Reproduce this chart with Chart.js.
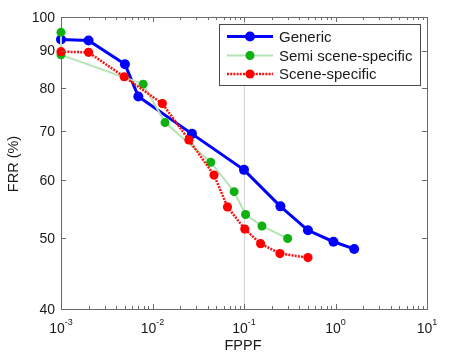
<!DOCTYPE html>
<html><head><meta charset="utf-8">
<script src="https://cdn.jsdelivr.net/npm/chart.js@4"></script>
<style>html,body{margin:0;padding:0;background:#fff}#wrap{width:466px;height:356px}</style>
</head><body><div id="wrap"><canvas id="c" width="466" height="356"></canvas></div>
<script>
// ---- data ----
const seriesNames = ['Generic', 'Semi scene-specific', 'Scene-specific'];
const genericX = [0.001, 0.002, 0.005, 0.007, 0.027, 0.1, 0.25, 0.5, 0.95, 1.6];
const genericY = [93.2, 92.9, 86.2, 77.9, 69.3, 61.9, 55.2, 51.2, 49.4, 48.3];
const semiX = [0.001, 0.001, 0.0079, 0.0137, 0.0433, 0.078, 0.104, 0.157, 0.30];
const semiY = [95.3, 88.8, 81.0, 71.8, 63.4, 57.8, 53.8, 51.9, 49.9];
const sceneX = [0.001, 0.002, 0.0049, 0.0128, 0.025, 0.047, 0.066, 0.102, 0.152, 0.247, 0.50];
const sceneY = [89.7, 89.5, 82.9, 76.2, 68.0, 60.9, 55.1, 51.4, 49.1, 47.6, 47.0];
const xTickExps = [-3, -2, -1, 0, 1];
const yTicks = [40, 50, 60, 70, 80, 90, 100];
const xTitle = 'FPPF';
const yTitle = 'FRR (%)';

const pts = (xs, ys) => xs.map((x, i) => ({x: x, y: ys[i]}));

const styles = [
  {line: '#0000ff', mark: '#0000ff', width: 3, dash: [], r: 5},
  {line: '#b4e4b4', mark: '#10b010', width: 2, dash: [], r: 4.5},
  {line: '#ff1010', mark: '#ff0000', width: 2.5, dash: [2, 1.2], r: 4.6}
];

const FONT = '"Liberation Sans", Arial, sans-serif';
const AXIS = '#6a6a6a';

const decor = {
  id: 'decor',
  beforeDatasetsDraw(chart) {
    const ctx = chart.ctx, a = chart.chartArea, xs = chart.scales.x;
    ctx.save();
    ctx.fillStyle = '#ffffff';
    ctx.fillRect(a.left, a.top, a.right - a.left, a.bottom - a.top);
    const gx = Math.round(xs.getPixelForValue(0.1)) + 0.5;
    ctx.strokeStyle = '#d4d4d4';
    ctx.lineWidth = 1;
    ctx.beginPath(); ctx.moveTo(gx, a.top); ctx.lineTo(gx, a.bottom); ctx.stroke();
    ctx.strokeStyle = AXIS;
    ctx.strokeRect(Math.round(a.left) + 0.5, Math.round(a.top) + 0.5,
                   Math.round(a.right - a.left), Math.round(a.bottom - a.top));
    ctx.restore();
  },
  afterDatasetsDraw(chart) {
    const ctx = chart.ctx, a = chart.chartArea, xs = chart.scales.x, ys = chart.scales.y;
    ctx.save();
    ctx.strokeStyle = AXIS;
    ctx.lineWidth = 1;
    ctx.beginPath();
    for (let k = 0; k < xTickExps.length; k++) {
      const e = xTickExps[k];
      const maxM = (k === xTickExps.length - 1) ? 1 : 9;
      for (let m = 1; m <= maxM; m++) {
        const v = m * Math.pow(10, e);
        const px = Math.round(xs.getPixelForValue(v)) + 0.5;
        const len = m === 1 ? 5 : 3;
        ctx.moveTo(px, a.bottom); ctx.lineTo(px, a.bottom - len);
        ctx.moveTo(px, a.top); ctx.lineTo(px, a.top + len);
      }
    }
    for (const v of yTicks) {
      const py = Math.round(ys.getPixelForValue(v)) + 0.5;
      ctx.moveTo(a.left, py); ctx.lineTo(a.left + 5, py);
      ctx.moveTo(a.right, py); ctx.lineTo(a.right - 5, py);
    }
    ctx.stroke();

    ctx.fillStyle = '#1a1a1a';
    ctx.font = '14px ' + FONT;
    ctx.textAlign = 'right';
    ctx.textBaseline = 'middle';
    for (const v of yTicks) {
      ctx.fillText(String(v), a.left - 6, ys.getPixelForValue(v) + 1);
    }
    ctx.textAlign = 'left';
    ctx.textBaseline = 'alphabetic';
    for (const e of xTickExps) {
      const px = xs.getPixelForValue(Math.pow(10, e));
      ctx.font = '14px ' + FONT;
      const w1 = ctx.measureText('10').width;
      ctx.font = '9px ' + FONT;
      const sup = (e < 0 ? '-' : '') + Math.abs(e);
      const w2 = ctx.measureText(sup).width;
      const x0 = px - (w1 + w2) / 2;
      ctx.font = '14px ' + FONT;
      ctx.fillText('10', x0, a.bottom + 24);
      ctx.font = '9px ' + FONT;
      ctx.fillText(sup, x0 + w1, a.bottom + 16);
    }
    ctx.font = '14.5px ' + FONT;
    ctx.textAlign = 'center';
    ctx.textBaseline = 'middle';
    ctx.fillText(xTitle, (a.left + a.right) / 2 - 1, a.bottom + 37);
    ctx.save();
    ctx.translate(14, (a.top + a.bottom) / 2 + 1);
    ctx.rotate(-Math.PI / 2);
    ctx.font = '14.5px ' + FONT;
    ctx.fillText(yTitle, 0, 0);
    ctx.restore();

    const lx = 219.5, ly = 24.5, lw = 201, lh = 61;
    ctx.fillStyle = '#ffffff';
    ctx.fillRect(lx, ly, lw, lh);
    ctx.strokeStyle = '#4a4a4a';
    ctx.lineWidth = 1;
    ctx.strokeRect(lx, ly, lw, lh);
    const rows = [36.5, 55.5, 74];
    for (let i = 0; i < seriesNames.length; i++) {
      const s = styles[i], y = rows[i];
      ctx.strokeStyle = s.line;
      ctx.lineWidth = s.width;
      ctx.setLineDash(s.dash);
      ctx.beginPath(); ctx.moveTo(227, y); ctx.lineTo(273, y); ctx.stroke();
      ctx.setLineDash([]);
      ctx.fillStyle = s.mark;
      ctx.beginPath(); ctx.arc(250, y, s.r, 0, Math.PI * 2); ctx.fill();
      ctx.fillStyle = '#1a1a1a';
      ctx.font = '15px ' + FONT;
      ctx.textAlign = 'left';
      ctx.textBaseline = 'middle';
      ctx.fillText(seriesNames[i], 279, y + 1);
    }
    ctx.restore();
  }
};

const data = [pts(genericX, genericY), pts(semiX, semiY), pts(sceneX, sceneY)];

new Chart(document.getElementById('c'), {
  type: 'line',
  data: {
    datasets: data.map((d, i) => ({
      label: seriesNames[i],
      data: d,
      borderColor: styles[i].line,
      borderWidth: styles[i].width,
      borderDash: styles[i].dash,
      pointBackgroundColor: styles[i].mark,
      pointBorderColor: styles[i].mark,
      pointBorderWidth: 0,
      pointRadius: styles[i].r,
      pointHoverRadius: styles[i].r,
      tension: 0,
      fill: false,
      clip: false,
      order: 3 - i
    }))
  },
  options: {
    responsive: false,
    animation: false,
    devicePixelRatio: 1,
    layout: {padding: {left: 61, right: 39, top: 17, bottom: 47}},
    plugins: {legend: {display: false}, tooltip: {enabled: false}},
    scales: {
      x: {type: 'logarithmic', min: 0.001, max: 10, display: false},
      y: {type: 'logarithmic', min: 40, max: 100, display: false}
    }
  },
  plugins: [decor]
});
</script></body></html>
